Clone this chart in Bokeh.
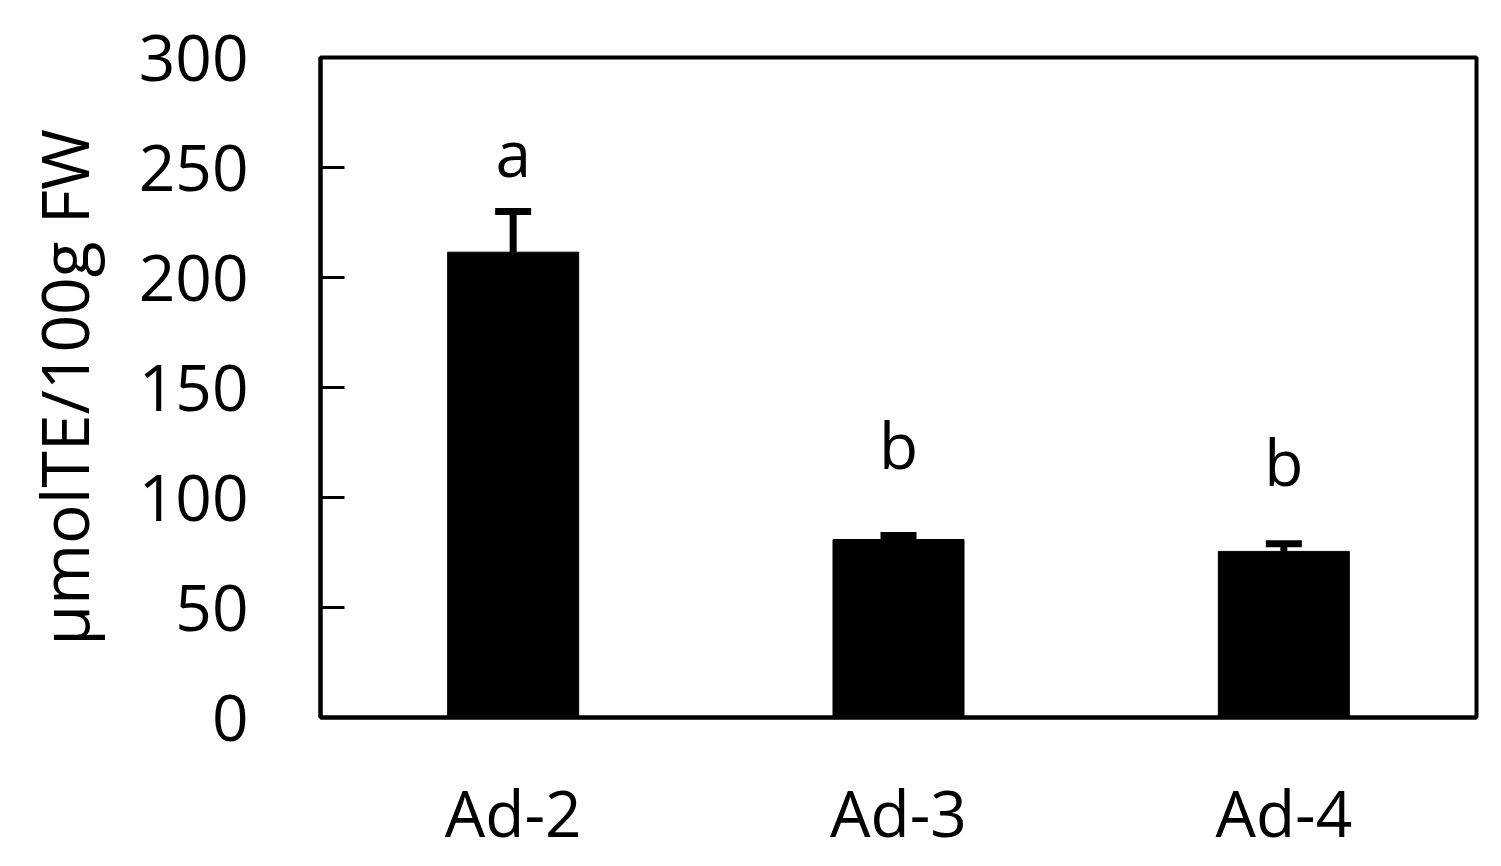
from bokeh.plotting import figure
from bokeh.models import ColumnDataSource, Whisker, TeeHead, FixedTicker
from bokeh.core.properties import value
from bokeh.embed import file_html
from bokeh.resources import INLINE

lines = ["Ad-2", "Ad-3", "Ad-4"]
means = [211.5, 80.9, 75.5]
errors = [18.5, 1.8, 3.5]
letters = ["a", "b", "b"]
letter_y = [257, 124, 116.5]
y_ticks = [0, 50, 100, 150, 200, 250, 300]

FONT = "Open Sans"

src = ColumnDataSource(data=dict(
    x=lines,
    top=means,
    upper=[m + e for m, e in zip(means, errors)],
    lower=means,
    letter=letters,
    ly=letter_y,
))

p = figure(x_range=lines, y_range=(0, 300), width=1501, height=866,
           output_backend="svg", toolbar_location=None,
           min_border_left=320, min_border_right=25,
           min_border_top=57, min_border_bottom=149)

p.vbar(x="x", top="top", width=0.34, source=src, color="black")

w = Whisker(base="x", upper="upper", lower="lower", source=src,
            line_color="black", line_width=7,
            upper_head=TeeHead(size=36, line_width=7, line_color="black"),
            lower_head=None)
p.add_layout(w)

p.text(x="x", y="ly", text="letter", source=src, text_align="center",
       text_baseline="alphabetic", text_font=value(FONT),
       text_font_size="64px", text_color="black")

p.grid.visible = False
p.outline_line_color = "black"
p.outline_line_width = 4
p.background_fill_color = "white"
p.border_fill_color = "white"

p.yaxis.ticker = FixedTicker(ticks=y_ticks)
p.yaxis.axis_label = "μmolTE/100g FW"
p.yaxis.axis_label_text_font = FONT
p.yaxis.axis_label_text_font_size = "66px"
p.yaxis.axis_label_text_font_style = "normal"
p.yaxis.axis_label_text_color = "black"
p.yaxis.axis_label_standoff = 28
p.yaxis.major_tick_in = 24
p.yaxis.major_tick_out = 0
p.yaxis.major_tick_line_width = 3
p.yaxis.minor_tick_line_color = None
p.yaxis.major_label_standoff = 72

p.xaxis.major_tick_line_color = None
p.xaxis.major_label_standoff = 45

for ax in (p.xaxis, p.yaxis):
    ax.axis_line_width = 4
    ax.axis_line_color = "black"
    ax.major_label_text_font = FONT
    ax.major_label_text_font_size = "64px"
    ax.major_label_text_color = "black"

open("out.html", "w").write(file_html(p, INLINE))
